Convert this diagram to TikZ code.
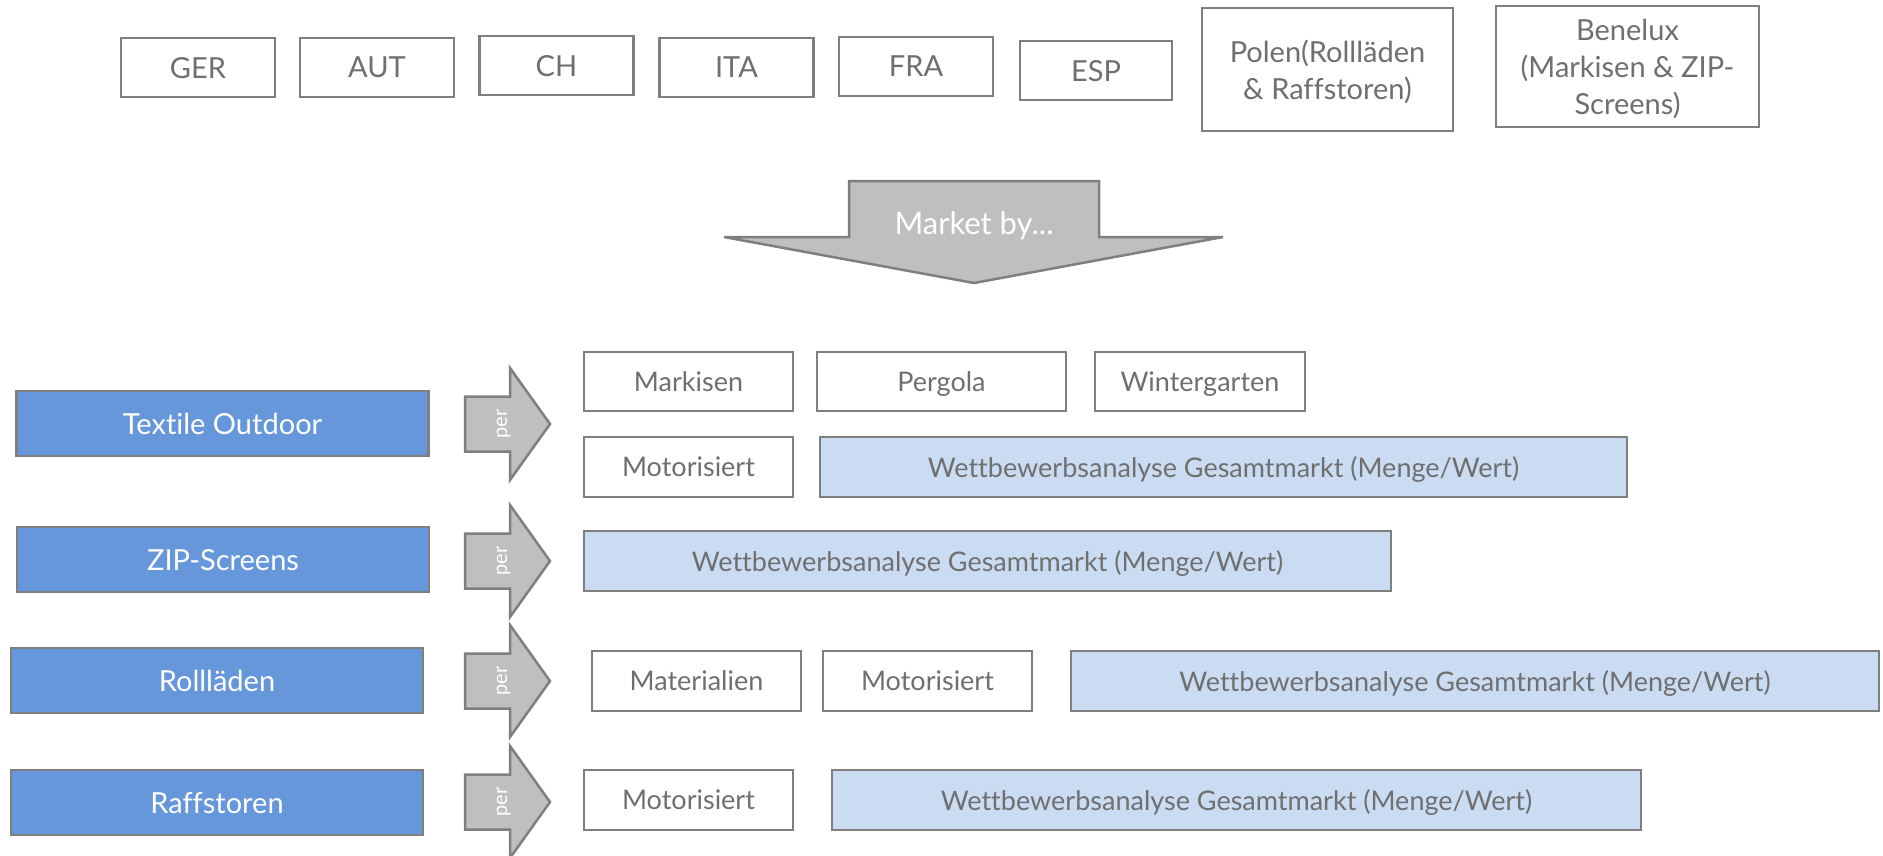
\documentclass[tikz,border=0pt]{standalone}
\usepackage{fontspec}
\setmainfont{Lato}[Ligatures=NoCommon]
\definecolor{linegray}{HTML}{7F7F7F}
\definecolor{textgray}{HTML}{6F6F6F}
\definecolor{arrowgray}{HTML}{BFBFBF}
\definecolor{catblue}{HTML}{6697DA}
\definecolor{lightblue}{HTML}{CADCF2}
\begin{document}
\begin{tikzpicture}[x=1pt,y=-1pt,
	every node/.style={inner sep=0pt,align=center,text depth=0pt},
	country/.style={draw=linegray,line width=2.5pt,fill=white,text=textgray,minimum width=154pt,minimum height=59pt,font=\fontsize{29}{37}\selectfont},
	category/.style={draw=linegray,line width=2.5pt,fill=catblue,text=white,minimum width=412pt,minimum height=65pt,font=\fontsize{29}{34}\selectfont},
	segment/.style={draw=linegray,line width=2.5pt,fill=white,text=textgray,minimum width=209pt,minimum height=59pt,font=\fontsize{27}{32}\selectfont},
	analysis/.style={segment,fill=lightblue,minimum width=807pt,minimum height=60pt},
	bigarrow/.style={draw=linegray,line width=2.5pt,fill=arrowgray,line join=miter},
	pertext/.style={text=white,rotate=90,font=\fontsize{20}{24}\selectfont}]

		\useasboundingbox (0,0) rectangle (1883,855);

		%countries
		\node[country] (ger) at (198,67.5) {GER};
		\node[country] (aut) at (377,67.5) {AUT};
		\node[country] (ch) at (556.5,65.5) {CH};
		\node[country] (ita) at (736.5,67.5) {ITA};
		\node[country] (fra) at (916,66.5) {FRA};
		\node[country,minimum width=152pt] (esp) at (1096,70.5) {ESP};
		\node[country,minimum width=251pt,minimum height=123pt] (pol) at (1327.5,69.5) {Polen(Rollläden\\ \& Raffstoren)};
		\node[country,minimum width=263pt,minimum height=121pt] (bnl) at (1627.5,66.5) {Benelux\\ (Markisen \& ZIP-\\ Screens)};

		%market arrow
		\draw[bigarrow] (849,181) -- (1099,181) -- (1099,237) -- (1223,237) -- (974,283) -- (724,237) -- (849,237) -- cycle;
		\node[text=white,font=\fontsize{31}{36}\selectfont] (market) at (974,223) {Market by...};

		%categories
		\node[category] (textile) at (222.5,423.5) {Textile Outdoor};
		\node[category] (zip) at (223,559.5) {ZIP-Screens};
		\node[category] (roll) at (217,680.5) {Rollläden};
		\node[category] (raff) at (217,802.5) {Raffstoren};

		%per arrows
		\foreach \y/\n in {424/1,561/2,681/3,802/4}{
			\draw[bigarrow] (465,{\y-27.5}) -- (510,{\y-27.5}) -- (510,{\y-56}) -- (550,\y) -- (510,{\y+56}) -- (510,{\y+27.5}) -- (465,{\y+27.5}) -- cycle;
			\node[pertext] (per\n) at (502,\y) {per};
		}

		%textile outdoor
		\node[segment] (mark) at (688.5,381.5) {Markisen};
		\node[segment,minimum width=249pt] (perg) at (941.5,381.5) {Pergola};
		\node[segment,minimum width=210pt] (wint) at (1200,381.5) {Wintergarten};
		\node[segment,minimum height=60pt] (mot1) at (688.5,467) {Motorisiert};
		\node[analysis] (ana1) at (1223.5,467) {Wettbewerbsanalyse Gesamtmarkt (Menge/Wert)};

		%zip-screens
		\node[analysis] (ana2) at (987.5,561) {Wettbewerbsanalyse Gesamtmarkt (Menge/Wert)};

		%rolllaeden
		\node[segment,minimum height=60pt] (mat3) at (696.5,681) {Materialien};
		\node[segment,minimum height=60pt] (mot3) at (927.5,681) {Motorisiert};
		\node[analysis,minimum width=808pt] (ana3) at (1475,681) {Wettbewerbsanalyse Gesamtmarkt (Menge/Wert)};

		%raffstoren
		\node[segment,minimum height=60pt] (mot4) at (688.5,800) {Motorisiert};
		\node[analysis,minimum width=809pt] (ana4) at (1236.5,800) {Wettbewerbsanalyse Gesamtmarkt (Menge/Wert)};
\end{tikzpicture}
\end{document}
